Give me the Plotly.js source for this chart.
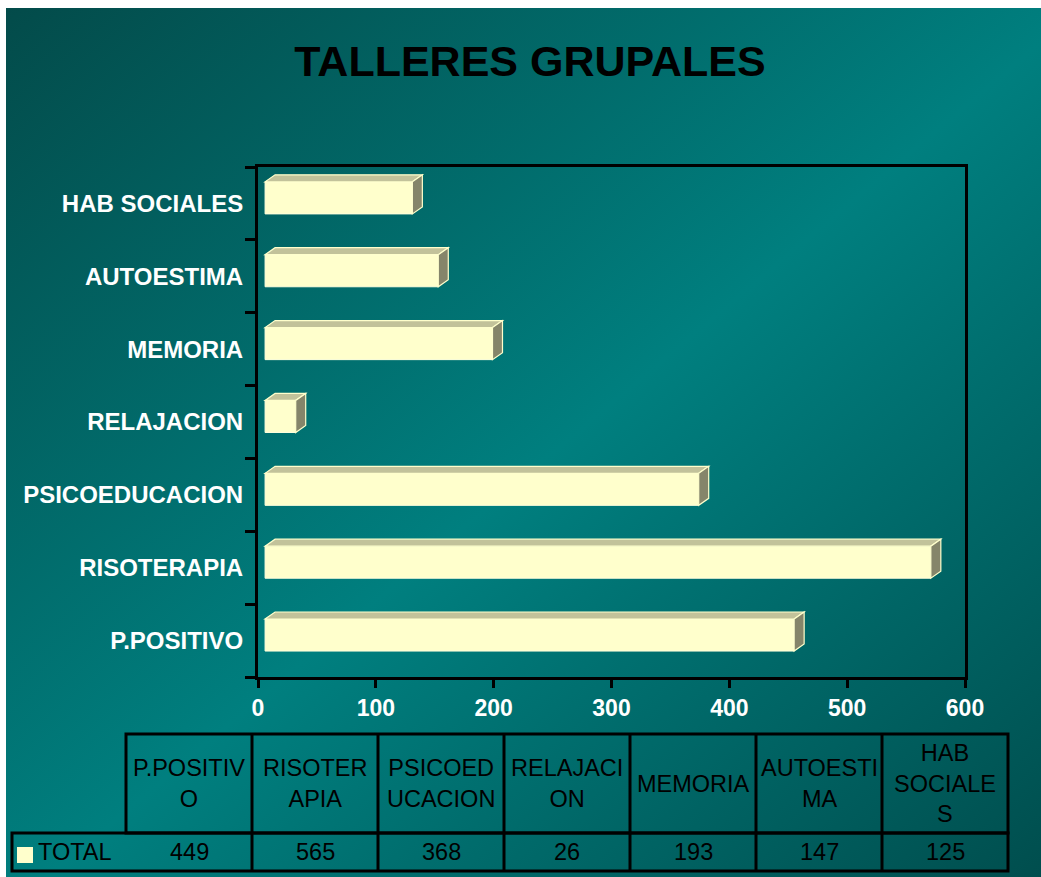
<!DOCTYPE html>
<html><head><meta charset="utf-8">
<script src="https://cdn.plot.ly/plotly-3.0.1.min.js"></script>
<style>
html,body{margin:0;padding:0;background:#fff;}
#bg{position:absolute;left:6px;top:8px;width:1035px;height:869px;background:linear-gradient(to bottom right,#034b4a 0%,#007f7f 52%,#004e4e 100%);}
#chart{position:absolute;left:0;top:0;width:1041px;height:877px;}
</style></head><body>
<div id="bg"></div><div id="chart"></div>
<script>
// ---- data ----
const categories = ['P.POSITIVO','RISOTERAPIA','PSICOEDUCACION','RELAJACION','MEMORIA','AUTOESTIMA','HAB SOCIALES'];
const totals = [449, 565, 368, 26, 193, 147, 125];
const tableHeaders = ['P.POSITIV<br>O','RISOTER<br>APIA','PSICOED<br>UCACION','RELAJACI<br>ON','MEMORIA','AUTOESTI<br>MA','HAB<br>SOCIALE<br>S'];
const xTicks = [0, 100, 200, 300, 400, 500, 600];
const seriesName = 'TOTAL';
const chartTitle = 'TALLERES GRUPALES';

// ---- geometry ----
const W = 1041, H = 877, L = 258, R = 965, T = 167, B = 677;
const pw = R - L, ph = B - T;
const px = p => (p - L) / pw;
const py = p => (B - p) / ph;
const FONT = 'Liberation Sans, Arial, sans-serif';
const xMax = 600, shift = 6;
const xUnit = xMax / pw, yUnit = categories.length / ph;
const dx = 10 * xUnit, dy = 7 * yUnit;
const barWidth = 0.44, barOffset = -0.144;
const positions = categories.map((_, i) => i);

const front = '#FFFFCC', topC = '#C2C29A', sideC = '#85856A';

const shapes = [];
positions.forEach((p, i) => {
  const v = totals[i];
  const yt = p + barOffset + barWidth, yb = p + barOffset;
  shapes.push({type:'path', xref:'x2', yref:'y', path:`M 0,${yt} L ${v},${yt} L ${v+dx},${yt+dy} L ${dx},${yt+dy} Z`,
    fillcolor: topC, line:{color:front, width:1.2}});
  shapes.push({type:'path', xref:'x2', yref:'y', path:`M ${v},${yb} L ${v},${yt} L ${v+dx},${yt+dy} L ${v+dx},${yb+dy} Z`,
    fillcolor: sideC, line:{color:front, width:1.2}});
});

// table
const tTop = 734, tMid = 833, tBot = 871, tLeft = 126, cellW = 126, legLeft = 12;
const tRight = tLeft + cellW * categories.length;
const blk = {color:'#000', width:3};
shapes.push({type:'rect', xref:'paper', yref:'paper', x0:px(tLeft), x1:px(tRight), y0:py(tMid), y1:py(tTop), line:blk});
shapes.push({type:'rect', xref:'paper', yref:'paper', x0:px(legLeft), x1:px(tRight), y0:py(tBot), y1:py(tMid), line:blk});
for (let k = 1; k < categories.length; k++) {
  const x = tLeft + k * cellW;
  shapes.push({type:'line', xref:'paper', yref:'paper', x0:px(x), x1:px(x), y0:py(tBot), y1:py(tTop), line:blk});
}
shapes.push({type:'rect', xref:'paper', yref:'paper', x0:px(17), x1:px(33), y0:py(863), y1:py(847), fillcolor:front, line:{width:0}});

const TS = 23.5;
const annotations = [];
tableHeaders.forEach((h, k) => {
  annotations.push({xref:'paper', yref:'paper', x:px(tLeft + cellW*k + cellW/2), y:py((tTop+tMid)/2),
    text:h, showarrow:false, xanchor:'center', yanchor:'middle', align:'center',
    font:{family:FONT, size:TS, color:'#000'}});
  annotations.push({xref:'paper', yref:'paper', x:px(tLeft + cellW*k + cellW/2), y:py((tMid+tBot)/2),
    text:String(totals[k]), showarrow:false, xanchor:'center', yanchor:'middle',
    font:{family:FONT, size:TS, color:'#000'}});
});
annotations.push({xref:'paper', yref:'paper', x:px(36), y:py((tMid+tBot)/2), text:seriesName,
  showarrow:false, xanchor:'left', yanchor:'middle', font:{family:FONT, size:TS, color:'#000'}});

const traces = [{
  type:'bar', orientation:'h', x: totals, y: positions, xaxis:'x2', yaxis:'y',
  width: barWidth, offset: barOffset,
  marker:{color: front, line:{color:'#FFFFDD', width:1}},
  hoverinfo:'skip', name: seriesName
}, {
  type:'scatter', x:[null], y:[null], xaxis:'x', yaxis:'y2', hoverinfo:'skip', showlegend:false
}];

const boundaries = [];
for (let i = 0; i <= categories.length; i++) boundaries.push(i - 0.5);

const layout = {
  width: W, height: H,
  margin:{l:L, r:W-R, t:T, b:H-B, pad:0},
  paper_bgcolor:'rgba(0,0,0,0)', plot_bgcolor:'rgba(0,0,0,0)',
  showlegend:false,
  title:{text:'<b>'+chartTitle+'</b>', font:{family:FONT, size:43, color:'#000'},
    xref:'container', x:530/W, xanchor:'center', yref:'container', y:1-61/H, yanchor:'middle'},
  xaxis:{range:[0, xMax], tickvals:xTicks, ticktext:xTicks.map(String), ticks:'outside', ticklen:8, tickwidth:3, tickcolor:'#000',
    showline:true, linecolor:'#000', linewidth:3, mirror:true, showgrid:false, zeroline:false,
    tickfont:{family:FONT, size:23, color:'#fff', weight:'bold'}, fixedrange:true},
  xaxis2:{overlaying:'x', range:[-shift, xMax-shift], visible:false, fixedrange:true},
  yaxis:{range:[-0.5, categories.length-0.5], tickvals:positions, ticktext:categories, ticks:'outside', ticklen:7,
    tickcolor:'rgba(0,0,0,0)', showline:true, linecolor:'#000', linewidth:3, mirror:true, showgrid:false, zeroline:false,
    tickfont:{family:FONT, size:24, color:'#fff', weight:'bold'}, fixedrange:true},
  yaxis2:{overlaying:'y', range:[-0.5, categories.length-0.5], tickvals:boundaries, ticks:'outside', ticklen:12, tickwidth:3,
    tickcolor:'#000', showticklabels:false, showline:false, showgrid:false, zeroline:false, fixedrange:true},
  shapes, annotations
};

Plotly.newPlot('chart', traces, layout, {displayModeBar:false, staticPlot:true});
</script></body></html>
